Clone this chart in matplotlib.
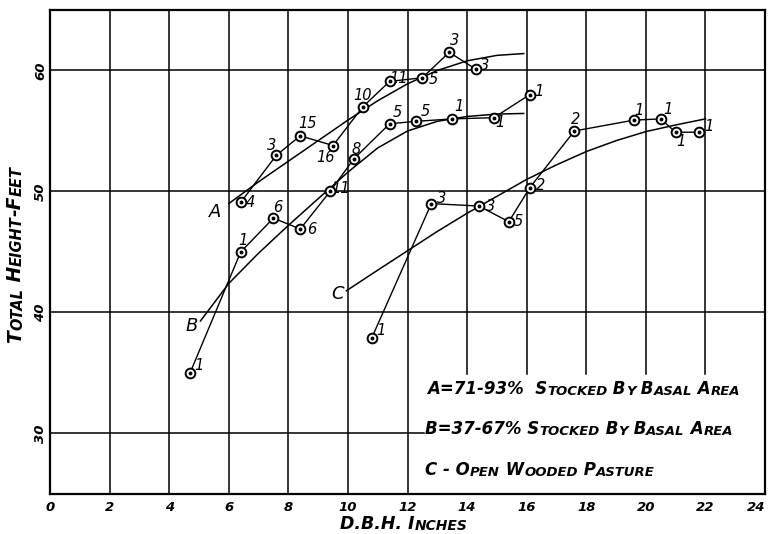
import matplotlib
matplotlib.use("Agg")
import matplotlib.pyplot as plt

# stand A (71-93% stocked): dbh, height, tree count
a_dbh = [6.4, 7.6, 8.4, 9.5, 10.5, 11.4, 12.5, 13.4, 14.3]
a_ht = [49.1, 53.0, 54.6, 53.8, 57.0, 59.1, 59.4, 61.5, 60.1]
a_n = ["4", "3", "15", "16", "10", "11", "5", "3", "3"]

# stand B (37-67% stocked)
b_dbh = [4.7, 6.4, 7.5, 8.4, 9.4, 10.2, 11.4, 12.3, 13.5, 14.9, 16.1]
b_ht = [35.0, 45.0, 47.8, 46.9, 50.0, 52.7, 55.6, 55.8, 56.0, 56.1, 58.0]
b_n = ["1", "1", "6", "6", "11", "8", "5", "5", "1", "1", "1"]

# C - open wooded pasture
c_dbh = [10.8, 12.8, 14.4, 15.4, 16.1, 17.6, 19.6, 20.5, 21.0, 21.8]
c_ht = [37.9, 49.0, 48.8, 47.5, 50.3, 55.0, 55.9, 56.0, 54.9, 54.9]
c_n = ["1", "3", "3", "5", "2", "2", "1", "1", "1", "1"]

# hand drawn curves
curve_a_x = [6.0, 7, 8, 9, 10, 11, 12, 13, 14, 15, 15.9]
curve_a_y = [49.0, 50.8, 52.5, 54.2, 55.9, 57.5, 58.9, 60.0, 60.8, 61.25, 61.4]
curve_b_x = [5.05, 6, 7, 8, 9, 10, 11, 12, 13, 14, 15, 15.9]
curve_b_y = [39.3, 42.4, 44.9, 47.2, 49.4, 51.6, 53.6, 55.0, 55.8, 56.2, 56.4, 56.45]
curve_c_x = [9.95, 11, 12, 13, 14, 15, 16, 17, 18, 19, 20, 21, 22]
curve_c_y = [41.8, 43.5, 45.1, 46.7, 48.2, 49.6, 51.0, 52.2, 53.3, 54.2, 54.95, 55.5, 56.0]

x_ticks = list(range(0, 25, 2))
y_ticks = [30, 40, 50, 60]

# label offsets in pixels (dx, dy up) for each count
a_off = [(10, 0), (-5, 10), (7, 12), (-7, -12), (0, 11), (9, 3), (11, -2), (5, 12), (9, 4)]
b_off = [(9, 7), (2, 11), (4, 11), (11, 0), (10, 3), (2, 9), (8, 11), (9, 10), (7, 12), (6, -5), (9, 3)]
c_off = [(9, 7), (10, 5), (12, 0), (10, 0), (11, 2), (1, 11), (5, 10), (7, 9), (5, -9), (9, 6)]

FONT = "DejaVu Sans"


def small_caps(ax, x, y, text, big, small, transform=None, rotation=0, weight="bold"):
    """draw text in small caps: uppercase stays big, lowercase becomes small capitals"""
    runs = []
    for ch in text:
        is_small = ch.islower()
        if runs and runs[-1][1] == is_small:
            runs[-1][0] += ch
        else:
            runs.append([ch, is_small])
    if rotation == 90:
        ha, va, xy = "right", "bottom", (1, 1)
    else:
        ha, va, xy = "left", "bottom", (1, 0)
    prev = None
    for s, is_small in runs:
        kw = dict(fontsize=small if is_small else big, family=FONT, style="italic",
                  weight=weight, rotation=rotation, ha=ha, va=va)
        if prev is None:
            prev = ax.text(x, y, s.upper(), transform=transform or ax.transData, **kw)
        else:
            prev = ax.annotate(s.upper(), xy=xy, xycoords=prev, **kw)
    return prev


fig = plt.figure(figsize=(7.69, 5.34), dpi=100)
ax = fig.add_axes([50 / 769, 40 / 534, 715 / 769, 484 / 534])
ax.set_xlim(0, 24)
ax.set_ylim(25, 65)

for sp in ax.spines.values():
    sp.set_linewidth(1.6)

# grid, cut away where the key sits
for xv in range(2, 24, 2):
    lo = (34.9 - 25) / 40 if xv >= 14 else 0
    ax.axvline(xv, ymin=lo, ymax=1, color="black", lw=1.1, zorder=1)
for yv in [40, 50, 60]:
    ax.axhline(yv, color="black", lw=1.1, zorder=1)
ax.axhline(30, xmin=0, xmax=12.55 / 24, color="black", lw=1.1, zorder=1)

ax.set_xticks(x_ticks)
ax.set_xticklabels([str(v) for v in x_ticks], fontsize=9.5, style="italic", weight="bold", family=FONT)
ax.get_xticklabels()[-1].set_ha("right")
ax.set_yticks(y_ticks)
ax.set_yticklabels([str(v) for v in y_ticks], fontsize=9.5, style="italic", weight="bold",
                   family=FONT, rotation=90, va="center")
ax.tick_params(axis="x", length=0, pad=5)
ax.tick_params(axis="y", length=0, pad=2)

# curves
for cx, cy in [(curve_a_x, curve_a_y), (curve_b_x, curve_b_y), (curve_c_x, curve_c_y)]:
    ax.plot(cx, cy, color="black", lw=1.1, zorder=2)

# observed points
for xs, ys, ns, offs in [(a_dbh, a_ht, a_n, a_off), (b_dbh, b_ht, b_n, b_off), (c_dbh, c_ht, c_n, c_off)]:
    ax.plot(xs, ys, color="black", lw=1.0, zorder=3)
    ax.plot(xs, ys, "o", ms=7, mfc="white", mec="black", mew=1.4, zorder=4)
    ax.plot(xs, ys, "o", ms=1.8, color="black", zorder=5)
    for x, y, n, (dx, dy) in zip(xs, ys, ns, offs):
        ax.annotate(n, (x, y), xytext=(dx * 0.72, dy * 0.72), textcoords="offset points",
                    ha="center", va="center", fontsize=10.5, style="italic", family=FONT)

# curve letters
ax.text(5.55, 48.3, "A", fontsize=13, style="italic", family=FONT, ha="center", va="center")
ax.text(4.75, 38.9, "B", fontsize=13, style="italic", family=FONT, ha="center", va="center")
ax.text(9.65, 41.5, "C", fontsize=13, style="italic", family=FONT, ha="center", va="center")

# key
small_caps(ax, 12.65, 32.9, "A=71-93%  Stocked By Basal Area", 12, 9.5)
small_caps(ax, 12.6, 29.6, "B=37-67% Stocked By Basal Area", 12, 9.5)
small_caps(ax, 12.6, 26.25, "C - Open Wooded Pasture", 12, 9.5)

# axis titles
small_caps(ax, 340 / 769, 1 - 533 / 534, "D.B.H. Inches", 12.5, 10, transform=fig.transFigure)
small_caps(ax, 25 / 769, 1 - 343 / 534, "Total Height-Feet", 13.5, 10.5, transform=fig.transFigure, rotation=90)

fig.savefig("out.png", dpi=100)
